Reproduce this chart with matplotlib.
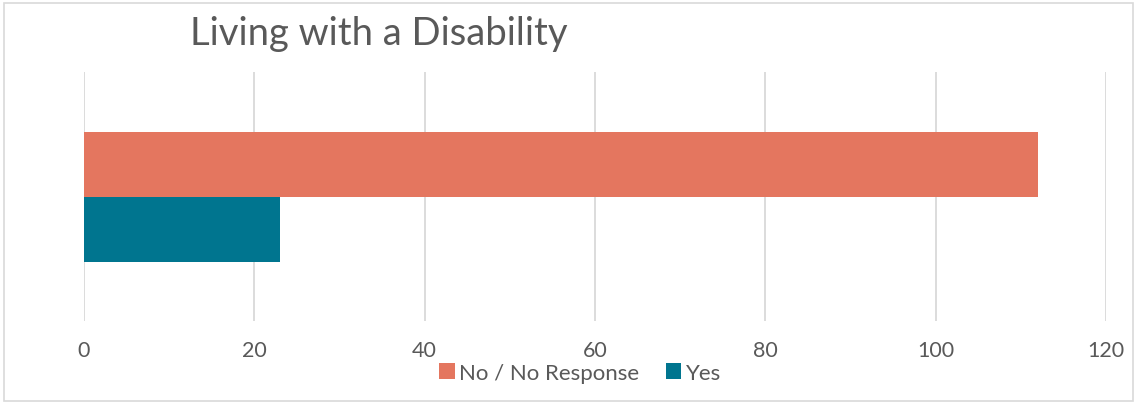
import matplotlib.pyplot as plt
from matplotlib.patches import Rectangle, Patch

# data
categories = ["No / No Response", "Yes"]
values = [112, 23]
colors = ["#E4765F", "#00758F"]
xticks = [0, 20, 40, 60, 80, 100, 120]

W, H = 1137, 406
plt.rcParams['font.family'] = ['Lato', 'DejaVu Sans']
txt = "#595959"

fig = plt.figure(figsize=(W / 100, H / 100), dpi=100)
ax = fig.add_axes([84 / W, 1 - 322 / H, (1106 - 84) / W, (322 - 73) / H])

# one group, two bars stacked vertically (first series on top)
h = 65 / 249 * 2
offsets = [h / 2, -h / 2]
for name, v, c, off in zip(categories, values, colors, offsets):
    ax.barh(off, v, height=h, color=c, label=name, zorder=3)

ax.set_xlim(0, 120)
ax.set_ylim(-1, 1)
ax.set_xticks(xticks)
ax.set_xticklabels([str(t) for t in xticks])
ax.set_yticks([])
ax.grid(axis='x', color="#d9d9d9", linewidth=1.3, zorder=0)
for s in ax.spines.values():
    s.set_visible(False)
ax.tick_params(axis='x', length=0, labelsize=15.5, labelcolor=txt, pad=14)

fig.text(190 / W, 1 - 34 / H, "Living with a Disability", fontsize=27.5,
         color=txt, ha='left', va='center')

handles = [Patch(facecolor=c, label=n) for n, c in zip(categories, colors)]
fig.legend(handles=handles, loc='center', bbox_to_anchor=(580 / W, 1 - 374 / H),
           ncol=2, frameon=False, fontsize=16, labelcolor=txt,
           handlelength=0.7, handleheight=0.7, handletextpad=0.2,
           columnspacing=1.2)

fig.patches.append(Rectangle((4 / W, 4 / H), (1133 - 4) / W, (402 - 4) / H,
                             transform=fig.transFigure, fill=False,
                             edgecolor="#d9d9d9", linewidth=1.2))

fig.savefig("out.png", dpi=100)
